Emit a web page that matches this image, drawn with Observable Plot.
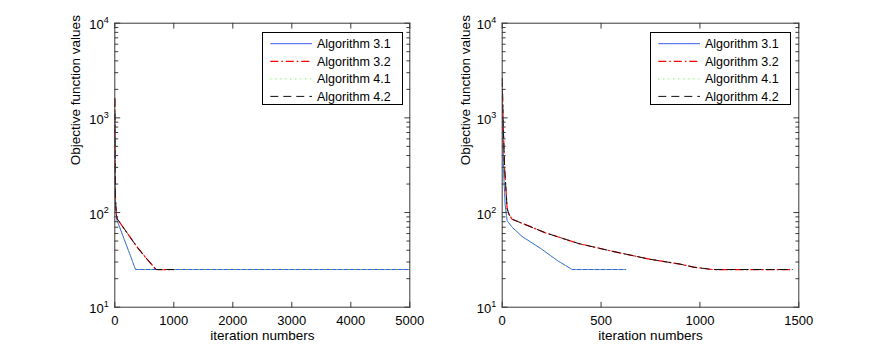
<!DOCTYPE html>
<html><head><meta charset="utf-8">
<script src="https://cdn.jsdelivr.net/npm/d3@7"></script>
<script src="https://cdn.jsdelivr.net/npm/@observablehq/plot@0.6"></script>
<style>
body{margin:0;background:#fff;}
#chart{position:relative;width:881px;height:346px;font-family:"Liberation Sans",Arial,Helvetica,sans-serif;background:#fff;}
.panel{position:absolute;top:0;}
.legend{position:absolute;}
</style></head><body><div id="chart"></div>
<script>
// ---- labels & ticks ----
const seriesNames = ["Algorithm 3.1", "Algorithm 3.2", "Algorithm 4.1", "Algorithm 4.2"];
const xLabel = "iteration numbers";
const yLabel = "Objective function values";
const yTickValues = [10, 100, 1000, 10000];
const xTicksLeft = [0, 1000, 2000, 3000, 4000, 5000];
const xTicksRight = [0, 500, 1000, 1500];

// ---- left panel data ----
const leftIter31 = [0, 5, 12, 40, 150, 250, 351, 5000];
const leftVal31  = [1100, 300, 120, 82, 54, 37, 25, 25];
const leftIter32 = [0, 4, 10, 25, 40, 200, 380, 550, 700, 1000];
const leftVal32  = [1600, 500, 150, 95, 86, 62, 43, 32, 25, 25];
const leftIter41 = [0, 5, 12, 40, 150, 250, 351, 5000];
const leftVal41  = [1100, 300, 120, 82, 54, 37, 25, 25];
const leftIter42 = [0, 4, 10, 25, 40, 200, 380, 550, 700, 1000];
const leftVal42  = [1600, 500, 150, 95, 86, 62, 43, 32, 25, 25];

// ---- right panel data ----
const rightIter31 = [0, 3, 8, 15, 25, 50, 100, 200, 280, 354, 625];
const rightVal31  = [1700, 700, 250, 120, 82, 70, 56, 41, 31, 25, 25];
const rightIter32 = [0, 5, 12, 25, 35, 50, 219, 387, 556, 750, 900, 968, 1062, 1467];
const rightVal32  = [2600, 900, 300, 110, 95, 85, 61, 47, 39, 32, 28.5, 26.5, 25, 25];
const rightIter41 = [0, 3, 8, 15, 25, 50, 100, 200, 280, 354, 625];
const rightVal41  = [1700, 700, 250, 120, 82, 70, 56, 41, 31, 25, 25];
const rightIter42 = [0, 5, 12, 25, 35, 50, 219, 387, 556, 750, 900, 968, 1062, 1467];
const rightVal42  = [2600, 900, 300, 110, 95, 85, 61, 47, 39, 32, 28.5, 26.5, 25, 25];

// ---- styles ----
const styles = [
  {stroke: "#3a5cf0", dash: null, width: 1, opacity: 1},
  {stroke: "#ff0000", dash: "8,3,1.5,3", width: 1.2, opacity: 1},
  {stroke: "#55ee33", dash: "1,5", width: 0.9, opacity: 0.8},
  {stroke: "#111111", dash: "8,5", width: 1, opacity: 1}
];
const axisColor = "#3a3a3a";
const FONT = "13px";
const FAMILY = '"Liberation Sans", Arial, sans-serif';

const tickShape = {draw(ctx, l) { ctx.moveTo(0, 0); ctx.lineTo(0, -l); }};
const minorY = d3.scaleLog().domain([10, 10000]).ticks().filter(v => !yTickValues.includes(v));

function makePanel(xDomain, xTicks, series, margins, width) {
  const marks = [];
  series.forEach(([xs, ys], i) => {
    const st = styles[i];
    marks.push(Plot.line(ys, {x: xs, y: ys, stroke: st.stroke, strokeWidth: st.width,
      strokeOpacity: st.opacity, strokeDasharray: st.dash, clip: true}));
  });
  marks.push(Plot.frame({stroke: axisColor, strokeWidth: 1}));
  const tk = {stroke: axisColor, strokeWidth: 1, anchor: "start", shape: tickShape};
  marks.push(Plot.vector(xTicks, {x: d => d, frameAnchor: "bottom", rotate: 0, length: 5, ...tk}));
  marks.push(Plot.vector(xTicks, {x: d => d, frameAnchor: "top", rotate: 180, length: 5, ...tk}));
  marks.push(Plot.vector(yTickValues, {y: d => d, frameAnchor: "left", rotate: 90, length: 5, ...tk}));
  marks.push(Plot.vector(yTickValues, {y: d => d, frameAnchor: "right", rotate: -90, length: 5, ...tk}));
  marks.push(Plot.vector(minorY, {y: d => d, frameAnchor: "left", rotate: 90, length: 3, ...tk}));
  marks.push(Plot.vector(minorY, {y: d => d, frameAnchor: "right", rotate: -90, length: 3, ...tk}));
  marks.push(Plot.axisX({ticks: xTicks, tickSize: 0, tickPadding: 8.5, label: null,
    tickFormat: d => String(d), fontSize: FONT}));
  marks.push(Plot.axisY({ticks: yTickValues, tickSize: 0, tickPadding: 6, label: null, dy: 2,
    tickFormat: d => "10^" + Math.round(Math.log10(d)), fontSize: FONT}));
  marks.push(Plot.text([xLabel], {text: d => d, frameAnchor: "bottom", lineAnchor: "middle", dy: 28.5,
    fontSize: "13.5px", fill: "#000"}));
  marks.push(Plot.text([yLabel], {text: d => d, frameAnchor: "left", lineAnchor: "middle", dx: margins.ylab,
    rotate: -90, fontSize: "13.5px", fill: "#000"}));
  const svg = Plot.plot({
    width, height: 346,
    marginLeft: margins.left, marginRight: margins.right, marginTop: 22.7, marginBottom: 39.3,
    x: {domain: xDomain},
    y: {type: "log", domain: [10, 10000]},
    style: {fontFamily: FAMILY, color: "#000", background: "transparent"},
    marks
  });
  // superscript exponents
  d3.select(svg).selectAll("text").each(function() {
    const m = /^10\^(\d+)$/.exec(this.textContent);
    if (m) {
      const sel = d3.select(this);
      sel.text("10");
      sel.append("tspan").attr("dy", "-6").attr("font-size", "9px").text(m[1]);
    }
  });
  return svg;
}

function makeLegend(left, top) {
  const w = 141, h = 73;
  const svg = d3.create("svg").attr("class", "legend").attr("width", w).attr("height", h)
    .style("left", left + "px").style("top", top + "px");
  svg.append("rect").attr("x", 0.5).attr("y", 0.5).attr("width", w - 1).attr("height", h - 1)
    .attr("fill", "#fff").attr("stroke", "#000").attr("stroke-width", 1);
  const rowY = [11.7, 29.4, 46.9, 64.4];
  seriesNames.forEach((name, i) => {
    const st = styles[i];
    svg.append("line").attr("x1", 8.3).attr("x2", 50).attr("y1", rowY[i]).attr("y2", rowY[i])
      .attr("stroke", st.stroke).attr("stroke-width", i === 2 ? 1 : st.width)
      .attr("stroke-dasharray", i === 2 ? "1,4" : st.dash);
    svg.append("text").attr("x", 55).attr("y", rowY[i]).attr("dy", "0.35em")
      .attr("font-size", "12.5px").attr("font-family", FAMILY)
      .text(name);
  });
  return svg.node();
}

const chart = document.getElementById("chart");
const left = makePanel([0, 5000], xTicksLeft,
  [[leftIter31, leftVal31], [leftIter32, leftVal32], [leftIter41, leftVal41], [leftIter42, leftVal42]],
  {left: 114.3, right: 30.7, ylab: -39.3}, 440);
left.classList.add("panel"); left.style.left = "0px";
chart.appendChild(left);
const right = makePanel([0, 1500], xTicksRight,
  [[rightIter31, rightVal31], [rightIter32, rightVal32], [rightIter41, rightVal41], [rightIter42, rightVal42]],
  {left: 61.7, right: 82.7, ylab: -36.7}, 441);
right.classList.add("panel"); right.style.left = "440px";
chart.appendChild(right);
chart.appendChild(makeLegend(261.7, 32.3));
chart.appendChild(makeLegend(650, 32.3));
</script>
</body></html>
